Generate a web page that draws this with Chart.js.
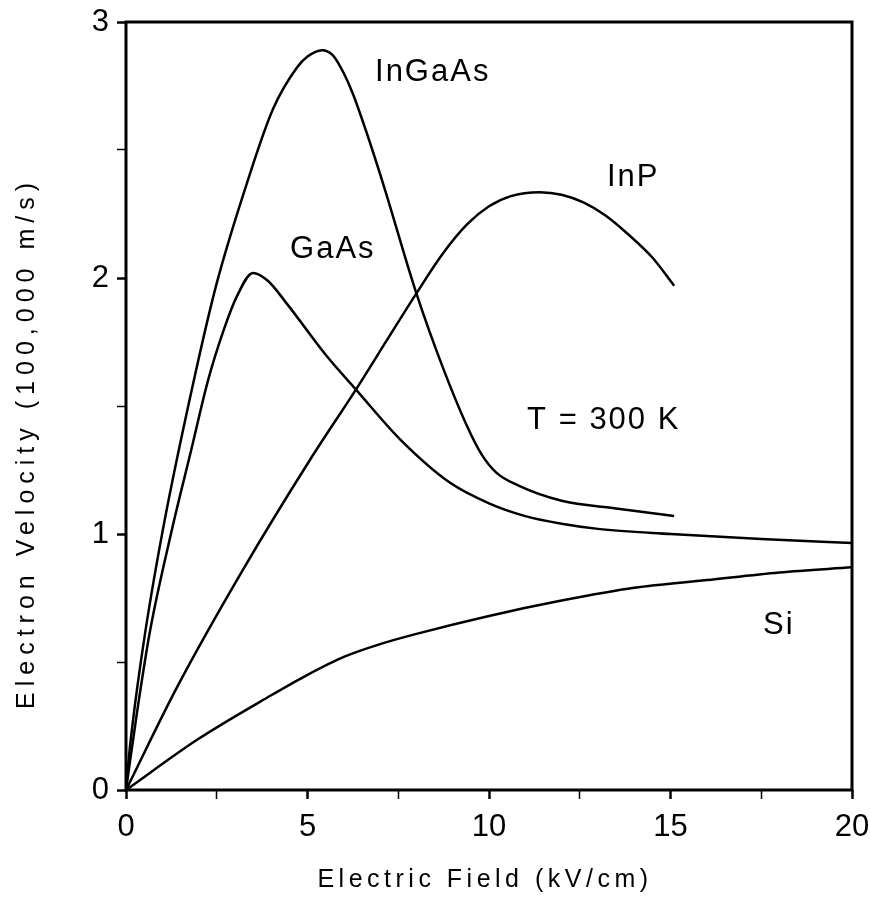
<!DOCTYPE html>
<html lang="en">
<head>
<meta charset="UTF-8" />
<title>Electron Velocity vs Electric Field</title>
<script src="https://cdn.jsdelivr.net/npm/chart.js@4.4.1/dist/chart.umd.min.js"></script>
<style>
  body { margin: 0; background: #fff; }
  #wrap { width: 870px; height: 908px; }
</style>
</head>
<body>
<div id="wrap"><canvas id="velocityChart" width="870" height="908"></canvas></div>
<script>
// values: field in kV/cm, velocity in 100,000 m/s
const inGaAsField    = [0, 0.11, 0.47, 1.02, 1.9, 2.5, 3.33, 4.05, 4.7, 5.0, 5.4, 5.7, 6.0, 6.25, 6.6, 7.08, 8.0, 8.73, 9.4, 9.8, 10.2, 10.8, 12.0, 13.5, 15.1];
const inGaAsVelocity = [0, 0.17, 0.56, 1.02, 1.62, 1.98, 2.37, 2.66, 2.82, 2.865, 2.89, 2.87, 2.80, 2.72, 2.58, 2.37, 1.94, 1.65, 1.42, 1.31, 1.24, 1.19, 1.13, 1.10, 1.07];

const gaAsField    = [0, 0.3, 0.66, 1.27, 1.8, 2.26, 2.7, 3.06, 3.5, 3.9, 4.43, 5.5, 6.36, 7.55, 8.93, 10.0, 11.0, 12.0, 13.0, 15.0, 17.5, 20];
const gaAsVelocity = [0, 0.30, 0.62, 1.02, 1.33, 1.60, 1.80, 1.93, 2.02, 1.99, 1.90, 1.70, 1.56, 1.37, 1.20, 1.12, 1.07, 1.04, 1.02, 1.00, 0.98, 0.965];

const inPField    = [0, 1.4, 3.22, 5.07, 6.36, 7.2, 8.0, 8.7, 9.4, 10.0, 10.6, 11.4, 12.0, 12.6, 13.2, 13.8, 14.5, 15.1];
const inPVelocity = [0, 0.40, 0.86, 1.29, 1.57, 1.76, 1.94, 2.09, 2.21, 2.28, 2.32, 2.335, 2.325, 2.295, 2.245, 2.175, 2.08, 1.97];

const siField    = [0, 2, 4, 5, 6, 7, 8, 10, 12, 14, 16, 18, 20];
const siVelocity = [0, 0.20, 0.37, 0.45, 0.52, 0.57, 0.61, 0.68, 0.74, 0.79, 0.82, 0.85, 0.87];

const xTickLabels = [0, 5, 10, 15, 20];
const yTickLabels = [0, 1, 2, 3];

// curve labels, placed in data units (left edge, baseline)
const curveLabels = [
  { text: 'InGaAs',    x: 6.86,  y: 2.77 },
  { text: 'InP',       x: 13.25, y: 2.36 },
  { text: 'GaAs',      x: 4.52,  y: 2.08 },
  { text: 'T = 300 K', x: 11.05, y: 1.41 },
  { text: 'Si',        x: 17.55, y: 0.61 }
];

const FONT = "'Liberation Sans', Arial, sans-serif";

function toPoints(xs, ys) {
  return xs.map((v, i) => ({ x: v, y: ys[i] }));
}

function curve(label, xs, ys) {
  return {
    label: label,
    data: toPoints(xs, ys),
    borderColor: '#000',
    borderWidth: 2.5,
    pointRadius: 0,
    fill: false,
    tension: 0.4,
    cubicInterpolationMode: 'monotone'
  };
}

// frame round the plot, curve names and axis titles
const decorations = {
  id: 'decorations',
  afterDraw(chart) {
    const { ctx, chartArea: a, scales: { x, y } } = chart;
    ctx.save();
    ctx.strokeStyle = '#000';
    ctx.lineWidth = 3;
    ctx.strokeRect(a.left, a.top, a.right - a.left, a.bottom - a.top);

    ctx.fillStyle = '#000';
    ctx.textAlign = 'left';
    ctx.textBaseline = 'alphabetic';
    ctx.font = '31px ' + FONT;
    ctx.letterSpacing = '2px';
    curveLabels.forEach(l => {
      ctx.fillText(l.text, x.getPixelForValue(l.x), y.getPixelForValue(l.y));
    });

    // x axis title
    ctx.textAlign = 'center';
    ctx.font = '25px ' + FONT;
    ctx.letterSpacing = '4.5px';
    ctx.fillText('Electric Field (kV/cm)', 485, 887);

    // y axis title
    ctx.translate(34, 443);
    ctx.rotate(-Math.PI / 2);
    ctx.letterSpacing = '6px';
    ctx.fillText('Electron Velocity (100,000 m/s)', 0, 0);
    ctx.restore();
  }
};

const ctx = document.getElementById('velocityChart');
new Chart(ctx, {
  type: 'line',
  data: {
    datasets: [
      curve('InGaAs', inGaAsField, inGaAsVelocity),
      curve('GaAs', gaAsField, gaAsVelocity),
      curve('InP', inPField, inPVelocity),
      curve('Si', siField, siVelocity)
    ]
  },
  options: {
    responsive: false,
    animation: false,
    layout: { padding: { top: 22, right: 18, left: 0, bottom: 0 } },
    plugins: {
      legend: { display: false },
      tooltip: { enabled: false }
    },
    scales: {
      x: {
        type: 'linear',
        min: 0,
        max: 20,
        ticks: {
          stepSize: 2.5,
          autoSkip: false,
          maxRotation: 0,
          padding: 10,
          color: '#000',
          font: { family: FONT, size: 31 },
          callback: v => xTickLabels.includes(v) ? String(v) : ''
        },
        grid: {
          drawOnChartArea: false,
          tickLength: 9,
          tickColor: '#000',
          tickWidth: c => xTickLabels.includes(c.tick.value) ? 2.5 : 1.5
        },
        border: { display: false },
        afterFit(scale) {
          scale.height = 118;
          scale.paddingLeft = 0;
          scale.paddingRight = 0;
        }
      },
      y: {
        min: 0,
        max: 3,
        ticks: {
          stepSize: 0.5,
          autoSkip: false,
          padding: 8,
          color: '#000',
          font: { family: FONT, size: 31 },
          callback: v => yTickLabels.includes(v) ? String(v) : ''
        },
        grid: {
          drawOnChartArea: false,
          tickLength: 9,
          tickColor: '#000',
          tickWidth: c => yTickLabels.includes(c.tick.value) ? 2.5 : 1.5
        },
        border: { display: false },
        afterFit(scale) {
          scale.width = 126;
          scale.paddingTop = 0;
          scale.paddingBottom = 0;
        }
      }
    }
  },
  plugins: [decorations]
});
</script>
</body>
</html>
